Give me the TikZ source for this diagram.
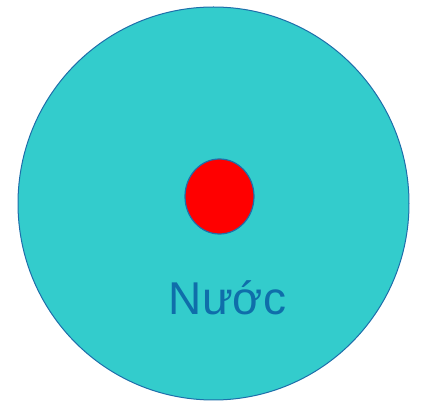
\documentclass[tikz,border=0pt]{standalone}
\usepackage{fontspec}
\setmainfont{Liberation Sans}
\usetikzlibrary{shapes.geometric}
\definecolor{nuocfill}{RGB}{51,204,204}
\definecolor{nuocline}{RGB}{30,110,170}
\definecolor{nuoctext}{RGB}{15,110,170}
\definecolor{giot}{RGB}{255,0,0}
\tikzset{vung/.style={ellipse,draw=nuocline,inner sep=0pt,line width=1pt},
 nhan/.style={text=nuoctext,font=\fontsize{46}{50}\selectfont,inner sep=0pt}}

\begin{document}
\begin{tikzpicture}[x=1pt,y=1pt]
\useasboundingbox (0,0) rectangle (421,402);
\node[vung,fill=nuocfill,minimum width=391pt,minimum height=393pt] (nuoc) at (213.5,198.5) {};
\node[vung,fill=giot,line width=1.2pt,minimum width=69pt,minimum height=75pt] (giot) at (219.5,205.5) {};
\node[nhan,anchor=base] (ten) at (227.5,87) {Nước};
\end{tikzpicture}
\end{document}
